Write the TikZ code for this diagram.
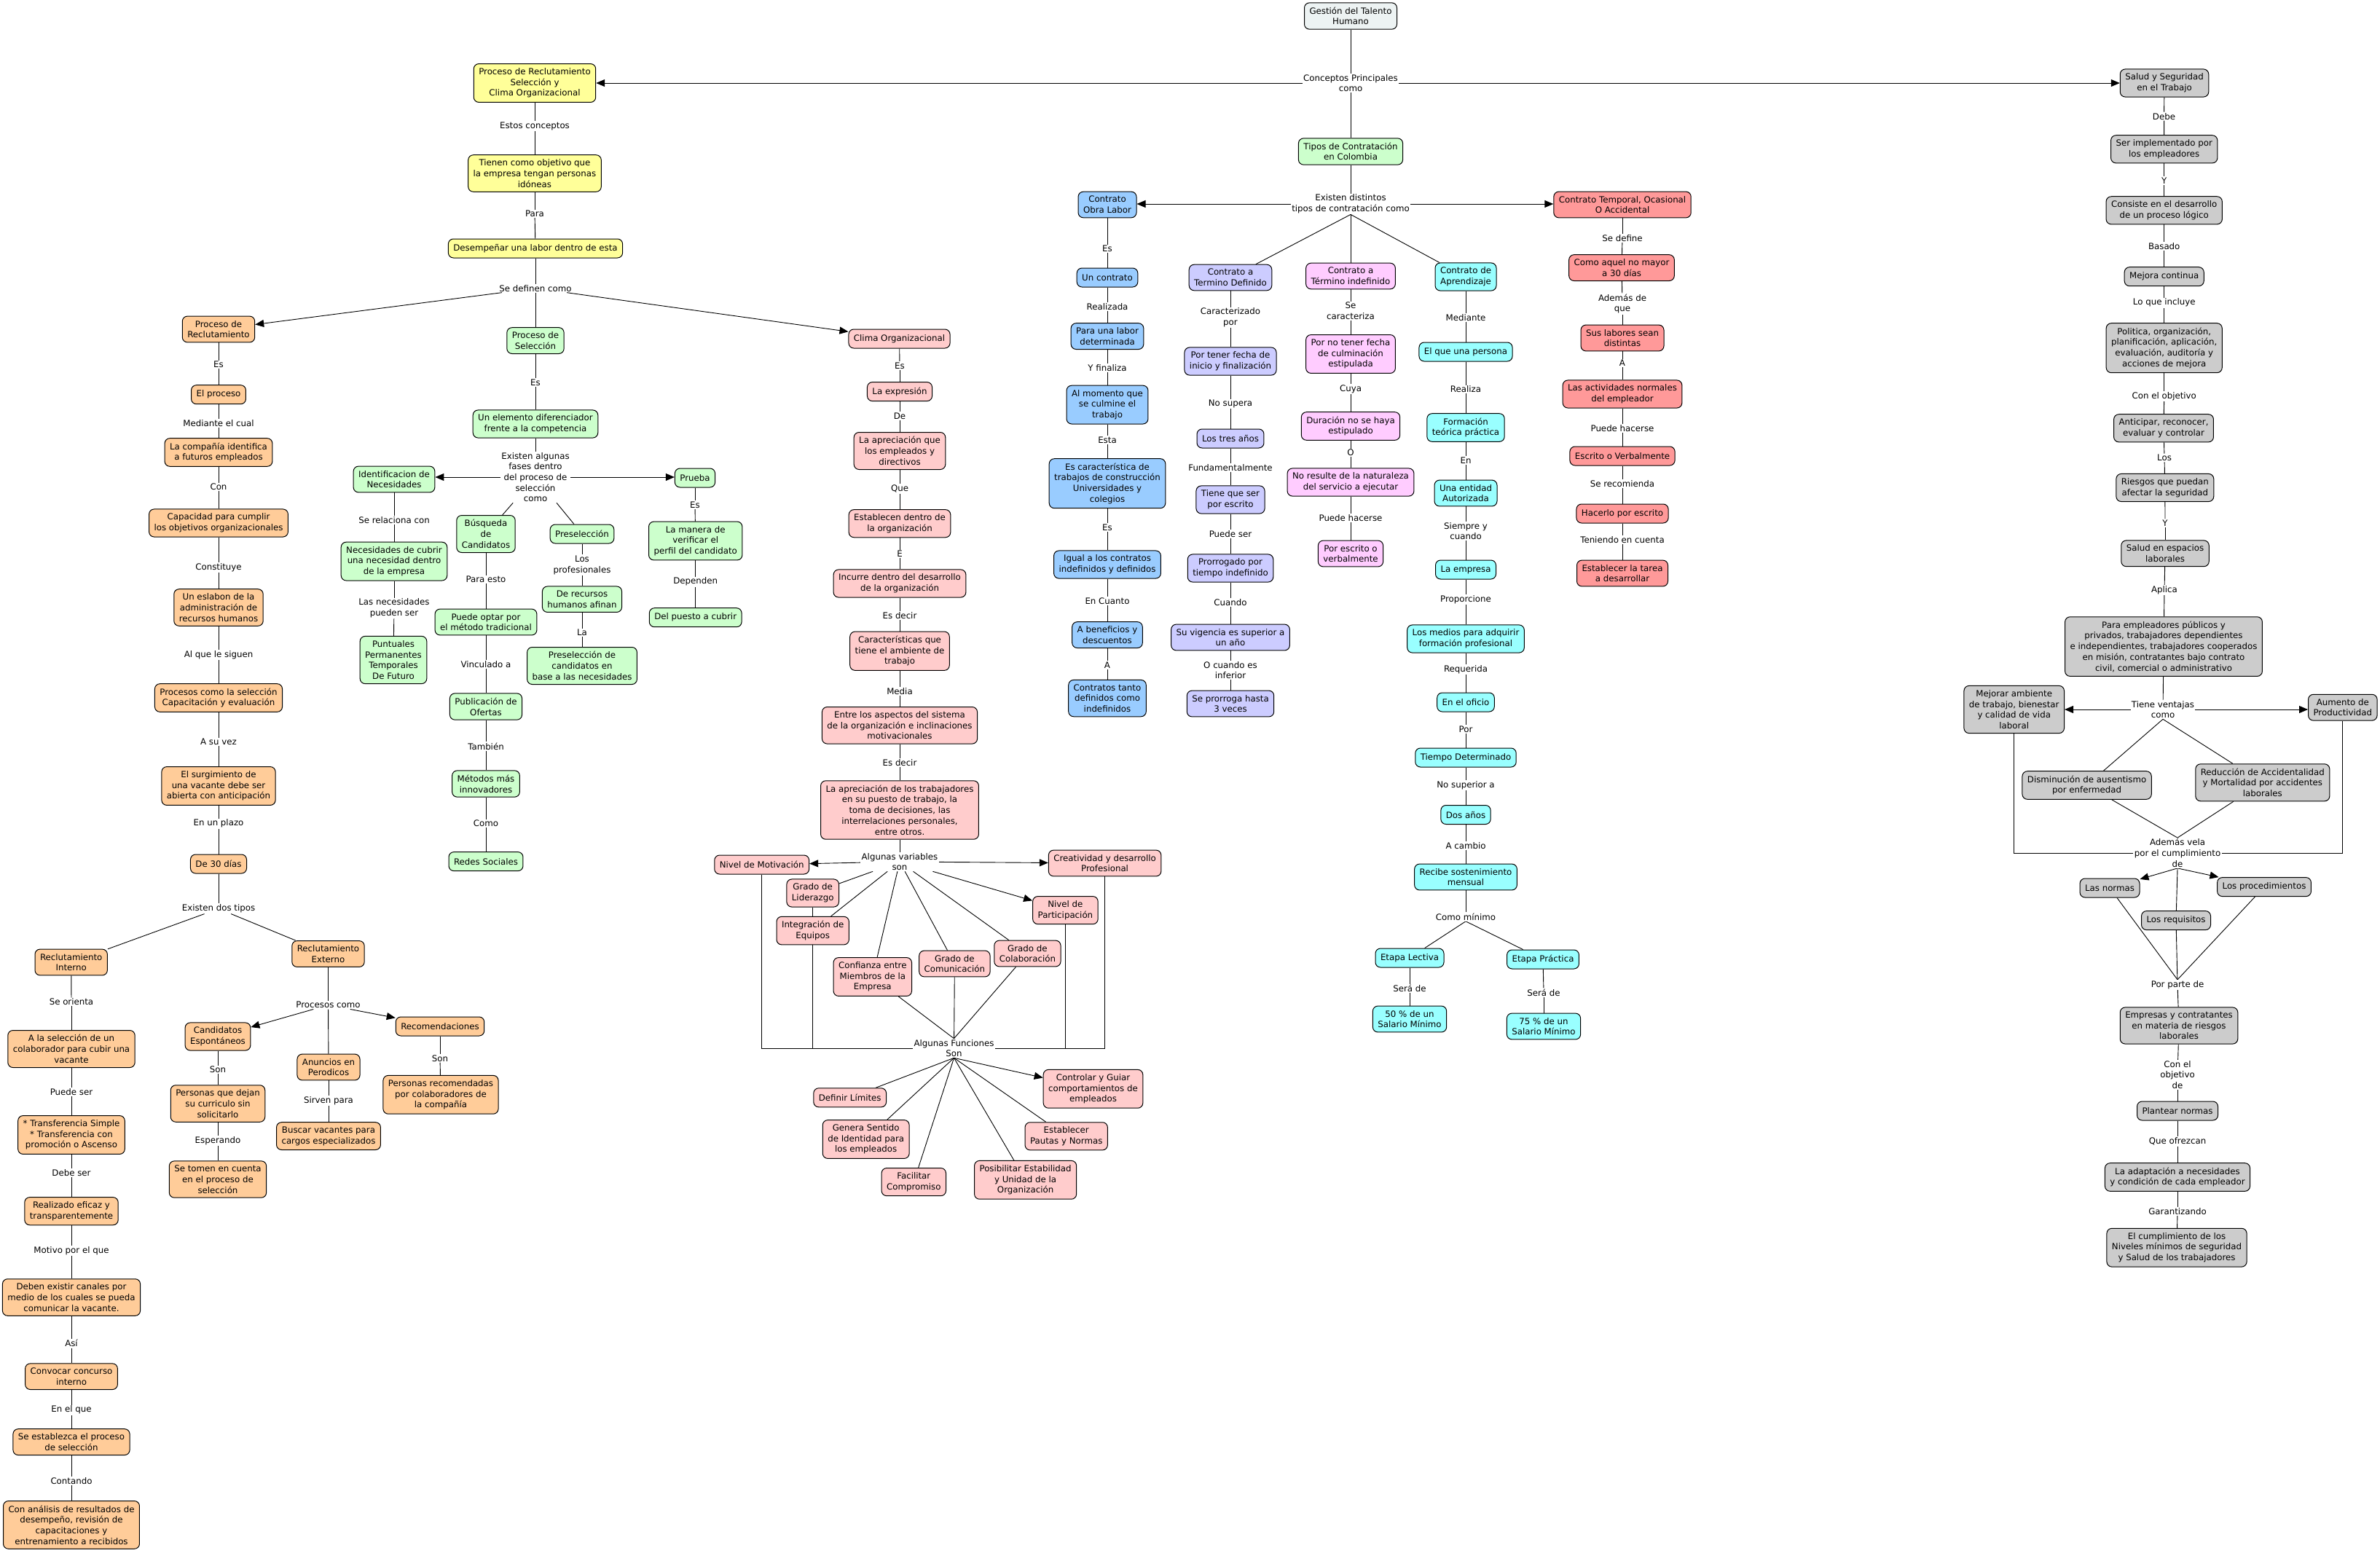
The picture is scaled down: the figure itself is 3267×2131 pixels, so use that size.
\documentclass[tikz,border=0pt]{standalone}
\usepackage{fontspec}
\setmainfont{DejaVu Sans}
\usetikzlibrary{arrows.meta,backgrounds}
\newcommand\cmfont{\fontsize{11.8pt}{14.7pt}\selectfont}
\definecolor{cGes}{HTML}{EDF3F3}
\definecolor{cYel}{HTML}{FFFF99}
\definecolor{cOra}{HTML}{FFCC99}
\definecolor{cGre}{HTML}{CCFFCC}
\definecolor{cPin}{HTML}{FFCCCC}
\definecolor{cBlu}{HTML}{99CCFF}
\definecolor{cPur}{HTML}{CCCCFF}
\definecolor{cMag}{HTML}{FFCCFF}
\definecolor{cCya}{HTML}{99FFFF}
\definecolor{cRed}{HTML}{FF9999}
\definecolor{cGra}{HTML}{CCCCCC}
\tikzset{
  bx/.style={draw=black, line width=1pt, rounded corners=7pt, align=center,
    inner xsep=7pt, inner ysep=6pt, minimum height=26pt, font=\cmfont},
  bGes/.style={bx, fill=cGes}, bY/.style={bx, fill=cYel}, bO/.style={bx, fill=cOra},
  bG/.style={bx, fill=cGre}, bP/.style={bx, fill=cPin}, bB/.style={bx, fill=cBlu},
  bU/.style={bx, fill=cPur}, bM/.style={bx, fill=cMag}, bC/.style={bx, fill=cCya},
  bR/.style={bx, fill=cRed}, bK/.style={bx, fill=cGra},
  lb/.style={fill=white, align=center, inner sep=1.2pt, font=\cmfont},
  con/.style={line width=0.9pt},
  arr/.style={con, -{Triangle[length=12pt,width=10pt]}},
}
\begin{document}
\begin{tikzpicture}[x=1pt,y=-1pt]
\useasboundingbox (0,0) rectangle (3267,2131);

% ---------- top
\node[bGes] (gest) at (1854,22) {Gestión del Talento\\Humano};
\node[lb] (cp) at (1854,114) {Conceptos Principales\\como};
\node[bY] (prs) at (734,114) {Proceso de Reclutamiento\\Selección y\\Clima Organizacional};
\node[bK] (sst) at (2971,114) {Salud y Seguridad\\en el Trabajo};
\node[bG] (tipos) at (1854,208) {Tipos de Contratación\\en Colombia};
\node[lb] (edt) at (1854,280) {Existen distintos\\tipos de contratación como};
\node[bB] (obra) at (1520,281) {Contrato\\Obra Labor};
\node[bR] (ctemp) at (2227,281) {Contrato Temporal, Ocasional\\O Accidental};
\node[bU] (tdef) at (1689,381) {Contrato a\\Termino Definido};
\node[bM] (tind) at (1854,379) {Contrato a\\Término indefinido};
\node[bC] (tapr) at (2012,380) {Contrato de\\Aprendizaje};

% ---------- purple
\node[lb] (pl1) at (1689,436) {Caracterizado\\por};
\node[bU] (pn1) at (1689,496) {Por tener fecha de\\inicio y finalización};
\node[lb] (pl2) at (1689,554.5) {No supera};
\node[bU] (pn2) at (1689,602) {Los tres años};
\node[lb] (pl3) at (1689,642) {Fundamentalmente};
\node[bU] (pn3) at (1689,686) {Tiene que ser\\por escrito};
\node[lb] (pl4) at (1689,732.6) {Puede ser};
\node[bU] (pn4) at (1689,780) {Prorrogado por\\tiempo indefinido};
\node[lb] (pl5) at (1689,826.6) {Cuando};
\node[bU] (pn5) at (1689,875) {Su vigencia es superior a\\un año};
\node[lb] (pl6) at (1689,920) {O cuando es\\inferior};
\node[bU] (pn6) at (1689,966) {Se prorroga hasta\\3 veces};

% ---------- magenta
\node[lb] (ml1) at (1854,427) {Se\\caracteriza};
\node[bM] (mn1) at (1854,486) {Por no tener fecha\\de culminación\\estipulada};
\node[lb] (ml2) at (1854,534) {Cuya};
\node[bM] (mn2) at (1854,585) {Duración no se haya\\estipulado};
\node[lb] (ml3) at (1854,621.5) {O};
\node[bM] (mn3) at (1854,662) {No resulte de la naturaleza\\del servicio a ejecutar};
\node[lb] (ml4) at (1854,711) {Puede hacerse};
\node[bM] (mn4) at (1854,760) {Por escrito o\\verbalmente};

% ---------- cyan
\node[lb] (cl1) at (2012,436) {Mediante};
\node[bC] (cn1) at (2012,483) {El que una persona};
\node[lb] (cl2) at (2012,534.5) {Realiza};
\node[bC] (cn2) at (2012,587) {Formación\\teórica práctica};
\node[lb] (cl3) at (2012,632) {En};
\node[bC] (cn3) at (2012,677) {Una entidad\\Autorizada};
\node[lb] (cl4) at (2012,729) {Siempre y\\cuando};
\node[bC] (cn4) at (2012,782) {La empresa};
\node[lb] (cl5) at (2012,823) {Proporcione};
\node[bC] (cn5) at (2012,877) {Los medios para adquirir\\formación profesional};
\node[lb] (cl6) at (2012,919) {Requerida};
\node[bC] (cn6) at (2012,964) {En el oficio};
\node[lb] (cl7) at (2012,1001) {Por};
\node[bC] (cn7) at (2012,1040) {Tiempo Determinado};
\node[lb] (cl8) at (2012,1078) {No superior a};
\node[bC] (cn8) at (2012,1118.5) {Dos años};
\node[lb] (cl9) at (2012,1161) {A cambio};
\node[bC] (cn9) at (2012,1204) {Recibe sostenimiento\\mensual};
\node[lb] (cl10) at (2012,1258.6) {Como mínimo};
\node[bC] (cn10a) at (1935,1315) {Etapa Lectiva};
\node[bC] (cn10b) at (2118,1317) {Etapa Práctica};
\node[lb] (cl11a) at (1935,1357) {Será de};
\node[lb] (cl11b) at (2119,1362.5) {Será de};
\node[bC] (cn11a) at (1935,1399) {50 \% de un\\Salario Mínimo};
\node[bC] (cn11b) at (2119,1409) {75 \% de un\\Salario Mínimo};

% ---------- red
\node[lb] (rl1) at (2227,327) {Se define};
\node[bR] (rn1) at (2226,367.6) {Como aquel no mayor\\a 30 días};
\node[lb] (rl2) at (2227,417) {Además de\\que};
\node[bR] (rn2) at (2227,464) {Sus labores sean\\distintas};
\node[lb] (rl3) at (2227,498.6) {A};
\node[bR] (rn3) at (2227,541) {Las actividades normales\\del empleador};
\node[lb] (rl4) at (2227,588) {Puede hacerse};
\node[bR] (rn4) at (2227,626) {Escrito o Verbalmente};
\node[lb] (rl5) at (2227,664) {Se recomienda};
\node[bR] (rn5) at (2227,705) {Hacerlo por escrito};
\node[lb] (rl6) at (2227,741) {Teniendo en cuenta};
\node[bR] (rn6) at (2227,787) {Establecer la tarea\\a desarrollar};

% ---------- blue
\node[lb] (bl1) at (1520,341.7) {Es};
\node[bB] (bn1) at (1520,381) {Un contrato};
\node[lb] (bl2) at (1520,421) {Realizada};
\node[bB] (bn2) at (1520,461.6) {Para una labor\\determinada};
\node[lb] (bl3) at (1520,504.7) {Y finaliza};
\node[bB] (bn3) at (1520,555.6) {Al momento que\\se culmine el\\trabajo};
\node[lb] (bl4) at (1520,604) {Esta};
\node[bB] (bn4) at (1520,663.7) {Es característica de\\trabajos de construcción\\Universidades y\\colegios};
\node[lb] (bl5) at (1520,724) {Es};
\node[bB] (bn5) at (1520,775) {Igual a los contratos\\indefinidos y definidos};
\node[lb] (bl6) at (1520,825) {En Cuanto};
\node[bB] (bn6) at (1520,871.6) {A beneficios y\\descuentos};
\node[lb] (bl7) at (1520,913) {A};
\node[bB] (bn7) at (1520,958.6) {Contratos tanto\\definidos como\\indefinidos};

% ---------- yellow
\node[lb] (yl1) at (734,173) {Estos conceptos};
\node[bY] (yn1) at (734,238) {Tienen como objetivo que\\la empresa tengan personas\\idóneas};
\node[lb] (yl2) at (734,293.3) {Para};
\node[bY] (yn2) at (735,341) {Desempeñar una labor dentro de esta};
\node[lb] (sdc) at (735,395.7) {Se definen como};
\node[bO] (precl) at (300,452) {Proceso de\\Reclutamiento};
\node[bG] (psel) at (735,467.6) {Proceso de\\Selección};
\node[bP] (clima) at (1234.5,465) {Clima Organizacional};

% ---------- orange
\node[lb] (ol1) at (300,500.5) {Es};
\node[bO] (on1) at (300,541.7) {El proceso};
\node[lb] (ol2) at (300,581) {Mediante el cual};
\node[bO] (on2) at (300,621) {La compañía identifica\\a futuros empleados};
\node[lb] (ol3) at (300,668.5) {Con};
\node[bO] (on3) at (300,718) {Capacidad para cumplir\\los objetivos organizacionales};
\node[lb] (ol4) at (300,779) {Constituye};
\node[bO] (on4) at (300,834) {Un eslabon de la\\administración de\\recursos humanos};
\node[lb] (ol5) at (300,899) {Al que le siguen};
\node[bO] (on5) at (300,958) {Procesos como la selección\\Capacitación y evaluación};
\node[lb] (ol6) at (300,1018.4) {A su vez};
\node[bO] (on6) at (300,1079) {El surgimiento de\\una vacante debe ser\\abierta con anticipación};
\node[lb] (ol7) at (300,1130.6) {En un plazo};
\node[bO] (on7) at (300,1186) {De 30 días};
\node[lb] (ol8) at (300,1247.5) {Existen dos tipos};
\node[bO] (rint) at (97.7,1321) {Reclutamiento\\Interno};
\node[bO] (rext) at (450.5,1309.5) {Reclutamiento\\Externo};

\node[lb] (il1) at (98,1375.5) {Se orienta};
\node[bO] (in1) at (98,1440) {A la selección de un\\colaborador para cubir una\\vacante};
\node[lb] (il2) at (98,1498.8) {Puede ser};
\node[bO] (in2) at (98,1558) {* Transferencia Simple\\* Transferencia con\\promoción o Ascenso};
\node[lb] (il3) at (98,1610) {Debe ser};
\node[bO] (in3) at (98,1662.7) {Realizado eficaz y\\transparentemente};
\node[lb] (il4) at (98,1717) {Motivo por el que};
\node[bO] (in4) at (98,1781) {Deben existir canales por\\medio de los cuales se pueda\\comunicar la vacante.};
\node[lb] (il5) at (98,1844.3) {Así};
\node[bO] (in5) at (98,1889.7) {Convocar concurso\\interno};
\node[lb] (il6) at (98,1935.7) {En el que};
\node[bO] (in6) at (98,1979.6) {Se establezca el proceso\\de selección};
\node[lb] (il7) at (98,2032.6) {Contando};
\node[bO] (in7) at (98,2093.4) {Con análisis de resultados de\\desempeño, revisión de\\capacitaciones y\\entrenamiento a recibidos};

\node[lb] (xl1) at (450.5,1379.7) {Procesos como};
\node[bO] (cand) at (299,1423) {Candidatos\\Espontáneos};
\node[bO] (recom) at (604,1409) {Recomendaciones};
\node[bO] (anun) at (451,1465) {Anuncios en\\Perodicos};
\node[lb] (xl2) at (299,1468.5) {Son};
\node[bO] (xn2) at (299,1515) {Personas que dejan\\su curriculo sin\\solicitarlo};
\node[lb] (xl3) at (299,1566) {Esperando};
\node[bO] (xn3) at (299,1619) {Se tomen en cuenta\\en el proceso de\\selección};
\node[lb] (xl4) at (451,1511) {Sirven para};
\node[bO] (xn4) at (451,1559.6) {Buscar vacantes para\\cargos especializados};
\node[lb] (xl5) at (604,1452.7) {Son};
\node[bO] (xn5) at (605,1502.8) {Personas recomendadas\\por colaboradores de\\la compañía};

% ---------- green
\node[lb] (gl1) at (735,525) {Es};
\node[bG] (gn1) at (735,582) {Un elemento diferenciador\\frente a la competencia};
\node[lb] (gl2) at (735,655) {Existen algunas\\fases dentro\\del proceso de\\selección\\como};
\node[bG] (idn) at (541,658) {Identificacion de\\Necesidades};
\node[bG] (prueba) at (954,656) {Prueba};
\node[bG] (busq) at (667,733) {Búsqueda\\de\\Candidatos};
\node[bG] (presel) at (799,733) {Preselección};
\node[lb] (gl3) at (541,714) {Se relaciona con};
\node[bG] (gn3) at (541,770.6) {Necesidades de cubrir\\una necesidad dentro\\de la empresa};
\node[lb] (gl4) at (541,835) {Las necesidades\\pueden ser};
\node[bG] (gn4) at (540,906) {Puntuales\\Permanentes\\Temporales\\De Futuro};
\node[lb] (gl5) at (667,795.4) {Para esto};
\node[bG] (gn5) at (667,854) {Puede optar por\\el método tradicional};
\node[lb] (gl6) at (667,912) {Vinculado a};
\node[bG] (gn6) at (667,970) {Publicación de\\Ofertas};
\node[lb] (gl7) at (667,1024.5) {También};
\node[bG] (gn7) at (667,1076) {Métodos más\\innovadores};
\node[lb] (gl8) at (667,1130.6) {Como};
\node[bG] (gn8) at (667,1182.6) {Redes Sociales};
\node[lb] (gl9) at (799,775.7) {Los\\profesionales};
\node[bG] (gn9) at (799,822.7) {De recursos\\humanos afinan};
\node[lb] (gl10) at (799,868.5) {La};
\node[bG] (gn10) at (799,914) {Preselección de\\candidatos en\\base a las necesidades};
\node[lb] (gl11) at (954,693) {Es};
\node[bG] (gn11) at (954.7,742.5) {La manera de\\verificar el\\perfil del candidato};
\node[lb] (gl12) at (954.7,798.7) {Dependen};
\node[bG] (gn12) at (954.7,847.7) {Del puesto a cubrir};

% ---------- clima
\node[lb] (kl1) at (1235,502) {Es};
\node[bP] (kn1) at (1235,537.6) {La expresión};
\node[lb] (kl2) at (1235,571.2) {De};
\node[bP] (kn2) at (1235,619) {La apreciación que\\los empleados y\\directivos};
\node[lb] (kl3) at (1235,671) {Que};
\node[bP] (kn3) at (1235,718.7) {Establecen dentro de\\la organización};
\node[lb] (kl4) at (1235,760.5) {E};
\node[bP] (kn4) at (1235,801) {Incurre dentro del desarrollo\\de la organización};
\node[lb] (kl5) at (1235,845) {Es decir};
\node[bP] (kn5) at (1235,893.7) {Características que\\tiene el ambiente de\\trabajo};
\node[lb] (kl6) at (1235,948.6) {Media};
\node[bP] (kn6) at (1235,995.8) {Entre los aspectos del sistema\\de la organización e inclinaciones\\motivacionales};
\node[lb] (kl7) at (1235,1046.8) {Es decir};
\node[bP] (kn7) at (1235,1112) {La apreciación de los trabajadores\\en su puesto de trabajo, la\\toma de decisiones, las\\interrelaciones personales,\\entre otros.};
\node[lb] (var) at (1235,1183) {Algunas variables\\son};
\node[bP] (nm) at (1045.7,1187) {Nivel de Motivación};
\node[bP] (creat) at (1516.6,1185) {Creatividad y desarrollo\\Profesional};
\node[bP] (glid) at (1115.7,1226) {Grado de\\Liderazgo};
\node[bP] (inteq) at (1115.7,1277.6) {Integración de\\Equipos};
\node[bP] (conf) at (1197.8,1341) {Confianza entre\\Miembros de la\\Empresa};
\node[bP] (gcom) at (1310.4,1323) {Grado de\\Comunicación};
\node[bP] (gcol) at (1410.4,1309) {Grado de\\Colaboración};
\node[bP] (npart) at (1462.4,1249.6) {Nivel de\\Participación};
\node[lb] (fun) at (1309.5,1439) {Algunas Funciones\\Son};
\node[bP] (deflim) at (1166.7,1506.8) {Definir Límites};
\node[bP] (gsent) at (1188.7,1564) {Genera Sentido\\de Identidad para\\los empleados};
\node[bP] (facil) at (1254.3,1622.6) {Facilitar\\Compromiso};
\node[bP] (posib) at (1407.6,1619.8) {Posibilitar Estabilidad\\y Unidad de la\\Organización};
\node[bP] (pautas) at (1463.7,1559.8) {Establecer\\Pautas y Normas};
\node[bP] (ctrl) at (1500.5,1494.8) {Controlar y Guiar\\comportamientos de\\empleados};

% ---------- salud
\node[lb] (sl1) at (2970.5,159.7) {Debe};
\node[bK] (sn1) at (2970.7,204.8) {Ser implementado por\\los empleadores};
\node[lb] (sl2) at (2970.7,248) {Y};
\node[bK] (sn2) at (2970.7,288.8) {Consiste en el desarrollo\\de un proceso lógico};
\node[lb] (sl3) at (2970.7,338) {Basado};
\node[bK] (sn3) at (2970.7,379.7) {Mejora continua};
\node[lb] (sl4) at (2970.7,415.7) {Lo que incluye};
\node[bK] (sn4) at (2970.7,477.7) {Politica, organización,\\planificación, aplicación,\\evaluación, auditoría y\\acciones de mejora};
\node[lb] (sl5) at (2970.7,543.8) {Con el objetivo};
\node[bK] (sn5) at (2970,587.8) {Anticipar, reconocer,\\evaluar y controlar};
\node[lb] (sl6) at (2971,628.5) {Los};
\node[bK] (sn6) at (2971.8,669.5) {Riesgos que puedan\\afectar la seguridad};
\node[lb] (sl7) at (2972,718) {Y};
\node[bK] (sn7) at (2972,759.8) {Salud en espacios\\laborales};
\node[lb] (sl8) at (2971,810) {Aplica};
\node[bK] (sn8) at (2970,887.6) {Para empleadores públicos y\\privados, trabajadores dependientes\\e independientes, trabajadores cooperados\\en misión, contratantes bajo contrato\\civil, comercial o administrativo};
\node[lb] (tv) at (2969,974) {Tiene ventajas\\como};
\node[bK] (mej) at (2764.7,974) {Mejorar ambiente\\de trabajo, bienestar\\y calidad de vida\\laboral};
\node[bK] (aum) at (3215.8,971.2) {Aumento de\\Productividad};
\node[bK] (dism) at (2864.6,1078) {Disminución de ausentismo\\por enfermedad};
\node[bK] (reduc) at (3105.8,1074.3) {Reducción de Accidentalidad\\y Mortalidad por accidentes\\laborales};
\node[lb] (av) at (2989,1171) {Además vela\\por el cumplimiento\\de};
\node[bK] (lnorm) at (2896,1219) {Las normas};
\node[bK] (lproc) at (3108,1217.6) {Los procedimientos};
\node[bK] (lreq) at (2987,1263.6) {Los requisitos};
\node[lb] (ppd) at (2989,1352) {Por parte de};
\node[bK] (emp) at (2991,1408) {Empresas y contratantes\\en materia de riesgos\\laborales};
\node[lb] (el1) at (2989,1475.5) {Con el\\objetivo\\de};
\node[bK] (en1) at (2989,1525) {Plantear normas};
\node[lb] (el2) at (2989,1567) {Que ofrezcan};
\node[bK] (en2) at (2989,1616) {La adaptación a necesidades\\y condición de cada empleador};
\node[lb] (el3) at (2989,1663) {Garantizando};
\node[bK] (en3) at (2988,1712.7) {El cumplimiento de los\\Niveles mínimos de seguridad\\y Salud de los trabajadores};

% ---------- connectors
\begin{scope}[on background layer]
\foreach \a/\b in {gest/cp, cp/tipos, tipos/edt,
  edt.south/tdef, edt.south/tind, edt.south/tapr,
  tdef/pl1, pl1/pn1, pn1/pl2, pl2/pn2, pn2/pl3, pl3/pn3, pn3/pl4, pl4/pn4, pn4/pl5, pl5/pn5, pn5/pl6, pl6/pn6,
  tind/ml1, ml1/mn1, mn1/ml2, ml2/mn2, mn2/ml3, ml3/mn3, mn3/ml4, ml4/mn4,
  tapr/cl1, cl1/cn1, cn1/cl2, cl2/cn2, cn2/cl3, cl3/cn3, cn3/cl4, cl4/cn4, cn4/cl5, cl5/cn5,
  cn5/cl6, cl6/cn6, cn6/cl7, cl7/cn7, cn7/cl8, cl8/cn8, cn8/cl9, cl9/cn9, cn9/cl10,
  cl10.south/cn10a, cl10.south/cn10b, cn10a/cl11a, cl11a/cn11a, cn10b/cl11b, cl11b/cn11b,
  ctemp/rl1, rl1/rn1, rn1/rl2, rl2/rn2, rn2/rl3, rl3/rn3, rn3/rl4, rl4/rn4, rn4/rl5, rl5/rn5, rn5/rl6, rl6/rn6,
  obra/bl1, bl1/bn1, bn1/bl2, bl2/bn2, bn2/bl3, bl3/bn3, bn3/bl4, bl4/bn4, bn4/bl5, bl5/bn5, bn5/bl6, bl6/bn6, bn6/bl7, bl7/bn7,
  prs/yl1, yl1/yn1, yn1/yl2, yl2/yn2, yn2/sdc, sdc/psel,
  precl/ol1, ol1/on1, on1/ol2, ol2/on2, on2/ol3, ol3/on3, on3/ol4, ol4/on4, on4/ol5, ol5/on5, on5/ol6, ol6/on6, on6/ol7, ol7/on7, on7/ol8, ol8/rint, ol8/rext,
  rint/il1, il1/in1, in1/il2, il2/in2, in2/il3, il3/in3, in3/il4, il4/in4, in4/il5, il5/in5, in5/il6, il6/in6, in6/il7, il7/in7,
  rext/xl1, xl1/anun, cand/xl2, xl2/xn2, xn2/xl3, xl3/xn3, anun/xl4, xl4/xn4, recom/xl5, xl5/xn5,
  psel/gl1, gl1/gn1, gn1/gl2, gl2/busq, gl2/presel, idn/gl3, gl3/gn3, gn3/gl4, gl4/gn4,
  busq/gl5, gl5/gn5, gn5/gl6, gl6/gn6, gn6/gl7, gl7/gn7, gn7/gl8, gl8/gn8,
  presel/gl9, gl9/gn9, gn9/gl10, gl10/gn10, prueba/gl11, gl11/gn11, gn11/gl12, gl12/gn12,
  clima/kl1, kl1/kn1, kn1/kl2, kl2/kn2, kn2/kl3, kl3/kn3, kn3/kl4, kl4/kn4, kn4/kl5, kl5/kn5, kn5/kl6, kl6/kn6, kn6/kl7, kl7/kn7, kn7/var,
  var/glid, var/inteq, var/conf, var/gcom, var/gcol,
  conf/fun.north, gcom/fun, gcol/fun.north,
  fun.south/deflim, fun.south/gsent, fun.south/facil, fun.south/posib, fun.south/pautas,
  sst/sl1, sl1/sn1, sn1/sl2, sl2/sn2, sn2/sl3, sl3/sn3, sn3/sl4, sl4/sn4, sn4/sl5, sl5/sn5, sn5/sl6, sl6/sn6, sn6/sl7, sl7/sn7, sn7/sl8, sl8/sn8, sn8/tv,
  tv.south/dism, tv.south/reduc, dism/av.north, reduc/av.north, av.south/lreq,
  lnorm/ppd.north, lreq/ppd, lproc/ppd.north, ppd/emp, emp/el1, el1/en1, en1/el2, el2/en2, en2/el3, el3/en3}
  \draw[con] (\a) -- (\b);
\draw[con] (nm.south) |- (fun.west);
\draw[con] (glid.south) |- (fun.west);
\draw[con] (npart.south) |- (fun.east);
\draw[con] (creat.south) |- (fun.east);
\draw[con] (mej.south) |- (av.west);
\draw[con] (aum.south) |- (av.east);
% arrows
\draw[arr] (cp.west) -- (cp.west -| prs.east);
\draw[arr] (cp.east) -- (cp.east -| sst.west);
\draw[arr] (edt.west) -- (edt.west -| obra.east);
\draw[arr] (edt.east) -- (edt.east -| ctemp.west);
\draw[arr] (sdc) -- (precl);
\draw[arr] (sdc) -- (clima);
\draw[arr] (gl2.west) -- (gl2.west -| idn.east);
\draw[arr] (gl2.east) -- (gl2.east -| prueba.west);
\draw[arr] (xl1) -- (cand);
\draw[arr] (xl1) -- (recom);
\draw[arr] (var) -- (nm);
\draw[arr] (var) -- (creat);
\draw[arr] (var) -- (npart);
\draw[arr] (fun.south) -- (ctrl);
\draw[arr] (tv.west) -- (tv.west -| mej.east);
\draw[arr] (tv.east) -- (tv.east -| aum.west);
\draw[arr] (av.south) -- (lnorm);
\draw[arr] (av.south) -- (lproc);
\end{scope}
\end{tikzpicture}
\end{document}
